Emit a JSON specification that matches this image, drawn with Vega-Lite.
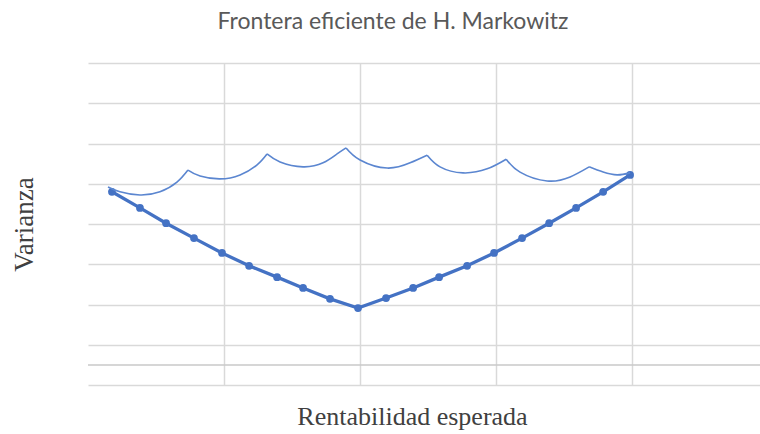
{
  "$schema": "https://vega.github.io/schema/vega-lite/v6.json",
  "width": 672,
  "height": 322,
  "autosize": {"type": "none"},
  "padding": {"left": 88, "top": 63, "right": 0, "bottom": 49},
  "background": "white",
  "title": {
    "text": "Frontera eficiente de H. Markowitz",
    "font": "Lato",
    "fontSize": 23,
    "fontWeight": "normal",
    "color": "#595959",
    "anchor": "middle",
    "dx": -31,
    "offset": 29
  },
  "config": {
    "view": {"stroke": null},
    "axis": {"gridColor": "#d9d9d9", "gridWidth": 1.5, "domain": false, "ticks": false, "labels": false}
  },
  "datasets": {
    "frontera": [
      {"r": 0.176, "v": 4.80}, {"r": 0.382, "v": 4.40}, {"r": 0.574, "v": 4.02}, {"r": 0.779, "v": 3.65},
      {"r": 0.985, "v": 3.28}, {"r": 1.184, "v": 2.96}, {"r": 1.390, "v": 2.68}, {"r": 1.581, "v": 2.41},
      {"r": 1.779, "v": 2.14}, {"r": 1.985, "v": 1.91}, {"r": 2.191, "v": 2.16}, {"r": 2.390, "v": 2.41},
      {"r": 2.581, "v": 2.68}, {"r": 2.787, "v": 2.96}, {"r": 2.985, "v": 3.28}, {"r": 3.191, "v": 3.65},
      {"r": 3.390, "v": 4.02}, {"r": 3.588, "v": 4.40}, {"r": 3.787, "v": 4.80}, {"r": 3.985, "v": 5.22}
    ],
    "arcos": [
      {"arc": 1, "r": 0.147, "v": 4.92}, {"arc": 1, "r": 0.235, "v": 4.80}, {"arc": 1, "r": 0.382, "v": 4.72}, {"arc": 1, "r": 0.529, "v": 4.80}, {"arc": 1, "r": 0.654, "v": 5.04}, {"arc": 1, "r": 0.735, "v": 5.34},
      {"arc": 2, "r": 0.735, "v": 5.34}, {"arc": 2, "r": 0.824, "v": 5.19}, {"arc": 2, "r": 0.971, "v": 5.12}, {"arc": 2, "r": 1.118, "v": 5.22}, {"arc": 2, "r": 1.243, "v": 5.47}, {"arc": 2, "r": 1.316, "v": 5.74},
      {"arc": 3, "r": 1.316, "v": 5.74}, {"arc": 3, "r": 1.412, "v": 5.54}, {"arc": 3, "r": 1.581, "v": 5.42}, {"arc": 3, "r": 1.728, "v": 5.52}, {"arc": 3, "r": 1.831, "v": 5.74}, {"arc": 3, "r": 1.897, "v": 5.89},
      {"arc": 4, "r": 1.897, "v": 5.89}, {"arc": 4, "r": 2.0, "v": 5.59}, {"arc": 4, "r": 2.199, "v": 5.39}, {"arc": 4, "r": 2.368, "v": 5.52}, {"arc": 4, "r": 2.493, "v": 5.71},
      {"arc": 5, "r": 2.493, "v": 5.71}, {"arc": 5, "r": 2.588, "v": 5.42}, {"arc": 5, "r": 2.757, "v": 5.27}, {"arc": 5, "r": 2.934, "v": 5.37}, {"arc": 5, "r": 3.074, "v": 5.61},
      {"arc": 6, "r": 3.074, "v": 5.61}, {"arc": 6, "r": 3.176, "v": 5.29}, {"arc": 6, "r": 3.375, "v": 5.07}, {"arc": 6, "r": 3.544, "v": 5.17}, {"arc": 6, "r": 3.684, "v": 5.42},
      {"arc": 7, "r": 3.684, "v": 5.42}, {"arc": 7, "r": 3.787, "v": 5.29}, {"arc": 7, "r": 3.890, "v": 5.22}, {"arc": 7, "r": 3.985, "v": 5.27}
    ]
  },
  "layer": [
    {
      "data": {"name": "frontera"},
      "mark": {"type": "line", "color": "#4472C4", "strokeWidth": 3.3},
      "encoding": {
        "x": {
          "field": "r", "type": "quantitative",
          "scale": {"domain": [0, 4.94], "nice": false, "zero": false},
          "axis": {"grid": true, "values": [1, 2, 3, 4], "title": "Rentabilidad esperada",
                   "titleFont": "Liberation Serif", "titleFontSize": 26, "titleFontWeight": "normal",
                   "titleColor": "#404040", "titlePadding": 18, "titleX": 324, "titleAlign": "center"}
        },
        "y": {
          "field": "v", "type": "quantitative",
          "scale": {"domain": [0, 8], "nice": false},
          "axis": {"grid": true, "values": [0, 1, 2, 3, 4, 5, 6, 7, 8], "title": "Varianza",
                   "titleFont": "Liberation Serif", "titleFontSize": 27, "titleFontWeight": "normal",
                   "titleColor": "#404040", "titlePadding": 50}
        }
      }
    },
    {
      "data": {"name": "frontera"},
      "mark": {"type": "point", "filled": true, "opacity": 1, "color": "#4472C4", "size": 60},
      "encoding": {
        "x": {"field": "r", "type": "quantitative"},
        "y": {"field": "v", "type": "quantitative"}
      }
    },
    {
      "data": {"name": "arcos"},
      "mark": {"type": "line", "color": "#5B86D0", "strokeWidth": 1.6, "interpolate": "natural"},
      "encoding": {
        "x": {"field": "r", "type": "quantitative"},
        "y": {"field": "v", "type": "quantitative"},
        "detail": {"field": "arc", "type": "nominal"}
      }
    },
    {
      "data": {"values": [{}]},
      "mark": {"type": "rule", "color": "#c8c8c8", "strokeWidth": 1.5},
      "encoding": {"y": {"datum": 0.5}}
    }
  ]
}
